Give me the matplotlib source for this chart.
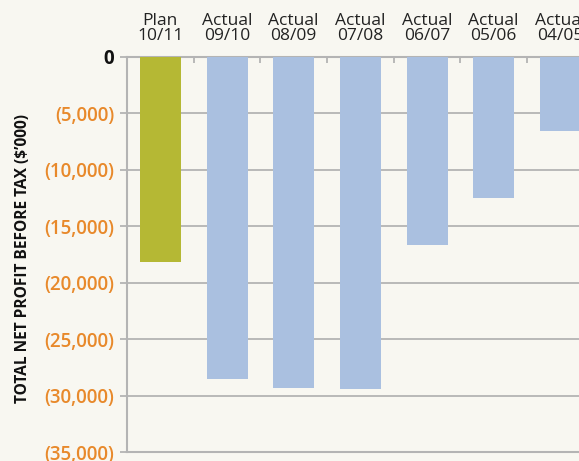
import matplotlib
matplotlib.use("Agg")
import matplotlib.pyplot as plt
from matplotlib.ticker import FixedLocator

categories = ["Plan\n10/11", "Actual\n09/10", "Actual\n08/09", "Actual\n07/08",
              "Actual\n06/07", "Actual\n05/06", "Actual\n04/05"]
values = [-18200, -28500, -29300, -29400, -16700, -12500, -6600]
bar_colors = ["#b5b834", "#aac0e0", "#aac0e0", "#aac0e0", "#aac0e0", "#aac0e0", "#aac0e0"]
yticks = [0, -5000, -10000, -15000, -20000, -25000, -30000, -35000]
ytick_labels = ["0", "(5,000)", "(10,000)", "(15,000)", "(20,000)", "(25,000)", "(30,000)", "(35,000)"]
ylabel = "TOTAL NET PROFIT BEFORE TAX ($\u2019000)"

W, H = 579, 461
bg = "#f8f7f1"
fig = plt.figure(figsize=(W / 100, H / 100), dpi=100, facecolor=bg)
left, right, top, bottom = 127, 579, 57, 452
ax = fig.add_axes([left / W, 1 - bottom / H, (right - left) / W, (bottom - top) / H])
ax.set_facecolor(bg)

x = list(range(len(categories)))
ax.bar(x, values, width=0.615, color=bar_colors, zorder=3)

ax.set_ylim(-35000, 0)
ax.set_xlim(-0.5, 6.28)

grid_c = "#b4b4b4"
ax.set_yticks(yticks)
ax.set_yticklabels(ytick_labels)
ax.yaxis.grid(True, color=grid_c, linewidth=1.3, zorder=1)
ax.tick_params(axis="y", length=5, color=grid_c, width=1.3, pad=4)
for lbl in ax.get_yticklabels():
    lbl.set_fontfamily("Open Sans")
    lbl.set_fontweight("semibold")
    lbl.set_fontsize(13.5)
    lbl.set_color("#e8892b")
ax.get_yticklabels()[0].set_color("#111111")
ax.get_yticklabels()[0].set_fontweight("bold")

ax.xaxis.tick_top()
ax.set_xticks(x)
ax.set_xticklabels(categories, fontfamily="Open Sans", fontsize=12.5, color="#222222", linespacing=0.95)
ax.tick_params(axis="x", which="major", length=0, pad=9)
ax.xaxis.set_minor_locator(FixedLocator([i + 0.5 for i in range(6)]))
ax.tick_params(axis="x", which="minor", direction="in", length=4, color=grid_c, width=1.3, top=True, bottom=False)

for s in ["left", "bottom", "top"]:
    ax.spines[s].set_color(grid_c)
    ax.spines[s].set_linewidth(1.5)
ax.spines["right"].set_visible(False)

fig.text(23 / W, 1 - 258 / H, ylabel, rotation=90, ha="center", va="center",
         fontfamily="Open Sans", fontweight="bold", fontsize=11.2, color="#111111")

fig.savefig("out.png", dpi=100, facecolor=bg)
